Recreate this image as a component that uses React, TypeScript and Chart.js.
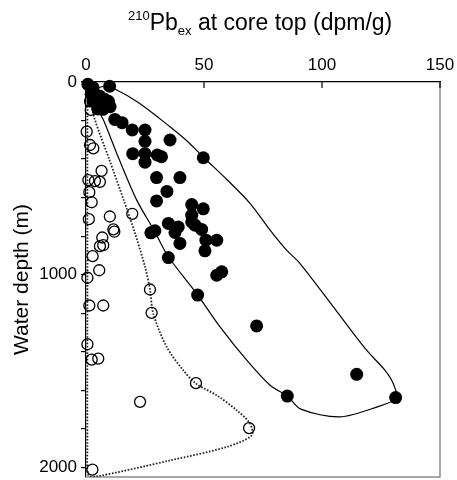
import React, { useEffect, useRef } from "react";
import { Chart, registerables } from "chart.js";

Chart.register(...registerables);

// Filled circles: 210Pbex at core top (dpm/g) vs water depth (m)
const filledPb = [
  0.8, 3, 10, 2.2, 5.8, 7.9, 9.5, 10.2, 7.2, 5, 3, 8.5,
  12.2, 15.3, 19.6, 25, 25, 35.6, 19.8, 25, 25, 30.2, 32, 49.7,
  29.9, 39.8, 34.3, 29.9, 44.8, 49.7, 44.8, 44.8, 46.2, 34.9, 39.1, 37.7,
  49, 29.2, 27.5, 50.8, 55.4, 39.8, 50.4, 34.9, 57.5, 55.4, 47.3, 72.3,
  114.7, 85.3, 131.2,
];
const filledDepth = [
  12, 29, 22, 64, 73, 90, 100, 128, 142, 140, 100, 112,
  194, 211, 249, 249, 308, 301, 372, 372, 416, 379, 388, 393,
  496, 496, 568, 617, 636, 658, 691, 726, 743, 734, 752, 781,
  765, 772, 783, 821, 821, 838, 876, 911, 985, 1003, 1106, 1266,
  1517, 1630, 1638,
];

// Open circles
const openPb = [
  1.7, 2, 0.3, 1.7, 3.1, 6.6, 1, 3.8, 5.9, 1.4, 2.4, 10.1,
  19.6, 1.2, 6.9, 7.3, 5.9, 11.6, 12, 2.8, 5.6, 0.6, 27.1, 1.4,
  7.3, 27.8, 0.6, 2.4, 5.2, 46.6, 22.9, 69.1, 2.7,
];
const openDepth = [
  100, 145, 258, 327, 344, 461, 509, 514, 518, 572, 624, 698,
  684, 712, 807, 847, 852, 765, 777, 904, 977, 1016, 1077, 1160,
  1160, 1198, 1361, 1441, 1436, 1563, 1660, 1796, 2012,
];

// Solid envelope around the filled circles
const solidEnvPb = [
  3, 8, 12, 22, 35.6, 42.7, 50, 60, 69.5, 78, 85, 90.7, 104.8, 118.9, 126.7,
  130.2, 131.5, 123.2, 107.6, 91, 85.3, 78, 68.1, 56.8, 46.9, 34.9, 29.2, 21.5,
  14, 7.5, 5, 3,
];
const solidEnvDepth = [
  40, 22, 35, 105, 232, 305, 393, 510, 630, 769, 873, 942, 1167, 1392, 1496,
  1565, 1640, 1687, 1738, 1698, 1630, 1574, 1444, 1271, 1098, 907, 778, 613,
  400, 200, 140, 40,
];

// Dotted envelope around the open circles
const dottedEnvPb = [
  0.8, 1.6, 3.8, 9.8, 16, 20.8, 25, 27.1, 28.5, 34.2, 41.2, 46.6, 55.4, 63.9,
  69.5, 70.2, 59.6, 35.6, 4.5, 1, 0.6, 0.6, 0.6, 0.8,
];
const dottedEnvDepth = [
  40, 90, 197, 400, 613, 786, 959, 1075, 1202, 1375, 1496, 1565, 1626, 1704,
  1773, 1834, 1894, 1964, 2047, 2040, 1900, 1000, 200, 40,
];

const pbTicks = [0, 50, 100, 150];
const depthTickLabels = [0, 1000, 2000];
const depthTickStep = 200;

const FONT = '"Liberation Sans", Arial, Helvetica, sans-serif';

const zip = (xs: number[], ys: number[]) => xs.map((x, i) => ({ x, y: ys[i] }));

const noPad = (s: any) => {
  s.paddingTop = 0;
  s.paddingBottom = 0;
  s.paddingLeft = 0;
  s.paddingRight = 0;
};

const framePlugin = {
  id: "frame",
  beforeDatasetsDraw(chart: any) {
    const { ctx, chartArea, scales } = chart;
    const { left, right, top, bottom } = chartArea;
    ctx.save();
    ctx.strokeStyle = "#8c8c8c";
    ctx.lineWidth = 1.5;
    ctx.beginPath();
    ctx.moveTo(right, top);
    ctx.lineTo(right, bottom);
    ctx.lineTo(left, bottom);
    ctx.stroke();
    ctx.strokeStyle = "#000";
    ctx.lineWidth = 1.2;
    for (const t of scales.x.ticks) {
      const px = scales.x.getPixelForValue(t.value);
      ctx.beginPath();
      ctx.moveTo(px, top);
      ctx.lineTo(px, top + 6);
      ctx.stroke();
    }
    ctx.restore();
  },
};

export default function App() {
  const canvasRef = useRef<HTMLCanvasElement | null>(null);

  useEffect(() => {
    document.body.style.margin = "0";
    const canvas = canvasRef.current;
    if (!canvas) return;
    const chart = new Chart(canvas, {
      type: "scatter",
      data: {
        datasets: [
          {
            label: "filled",
            data: zip(filledPb, filledDepth),
            pointRadius: 6.5,
            pointBackgroundColor: "#000",
            pointBorderWidth: 0,
            showLine: false,
            clip: false,
            order: 0,
          },
          {
            label: "open",
            data: zip(openPb, openDepth),
            pointRadius: 5.5,
            pointBackgroundColor: "rgba(0,0,0,0)",
            pointBorderColor: "#000",
            pointBorderWidth: 1.3,
            showLine: false,
            clip: false,
            order: 1,
          },
          {
            label: "solid envelope",
            data: zip(solidEnvPb, solidEnvDepth),
            showLine: true,
            borderColor: "#000",
            borderWidth: 1.2,
            pointRadius: 0,
            tension: 0.3,
            fill: false,
            order: 2,
          },
          {
            label: "dotted envelope",
            data: zip(dottedEnvPb, dottedEnvDepth),
            showLine: true,
            borderColor: "#222",
            borderWidth: 1.8,
            borderDash: [1.6, 1.6],
            pointRadius: 0,
            tension: 0.3,
            fill: false,
            order: 3,
          },
        ] as any,
      },
      options: {
        animation: false,
        responsive: false,
        maintainAspectRatio: false,
        layout: { autoPadding: false, padding: { left: 0, right: 17, top: 0, bottom: 3 } },
        plugins: {
          legend: { display: false },
          tooltip: { enabled: false },
          title: { display: false },
        },
        scales: {
          x: {
            type: "linear",
            position: "top",
            min: 0,
            max: 150,
            afterBuildTicks: (s: any) => {
              s.ticks = pbTicks.map((v) => ({ value: v }));
            },
            afterFit: (s: any) => {
              s.height = 82;
              noPad(s);
            },
            grid: { display: false, drawTicks: false },
            border: { display: true, color: "#000", width: 1.2 },
            ticks: {
              color: "#000",
              font: { family: FONT, size: 17 },
              padding: 6,
              maxRotation: 0,
              autoSkip: false,
            },
          },
          y: {
            type: "linear",
            reverse: true,
            min: 0,
            max: 2050,
            afterFit: (s: any) => {
              s.width = 86;
              noPad(s);
            },
            grid: {
              drawOnChartArea: false,
              drawTicks: true,
              tickLength: 5,
              color: "#000",
              lineWidth: 1.2,
            },
            border: { display: true, color: "#000", width: 1.2 },
            ticks: {
              stepSize: depthTickStep,
              includeBounds: false,
              autoSkip: false,
              color: "#000",
              font: { family: FONT, size: 17 },
              padding: 4,
              callback: (v: any) => (depthTickLabels.includes(Number(v)) ? String(v) : ""),
            },
            title: {
              display: true,
              text: "Water depth (m)",
              color: "#000",
              font: { family: FONT, size: 21 },
              padding: { top: 10, bottom: 0 },
            },
          },
        },
      } as any,
      plugins: [framePlugin],
    });
    return () => chart.destroy();
  }, []);

  return (
    <div style={{ position: "relative", width: 457, height: 480, background: "#fff" }}>
      <canvas ref={canvasRef} width={457} height={480} style={{ display: "block" }} />
      <div
        style={{
          position: "absolute",
          left: 128,
          top: 8,
          font: `23px ${FONT}`,
          lineHeight: "28px",
          whiteSpace: "nowrap",
          color: "#000",
        }}
      >
        <span style={{ fontSize: 13, position: "relative", top: -10 }}>210</span>
        Pb
        <span style={{ fontSize: 13, position: "relative", top: 5 }}>ex</span> at core top (dpm/g)
      </div>
    </div>
  );
}
